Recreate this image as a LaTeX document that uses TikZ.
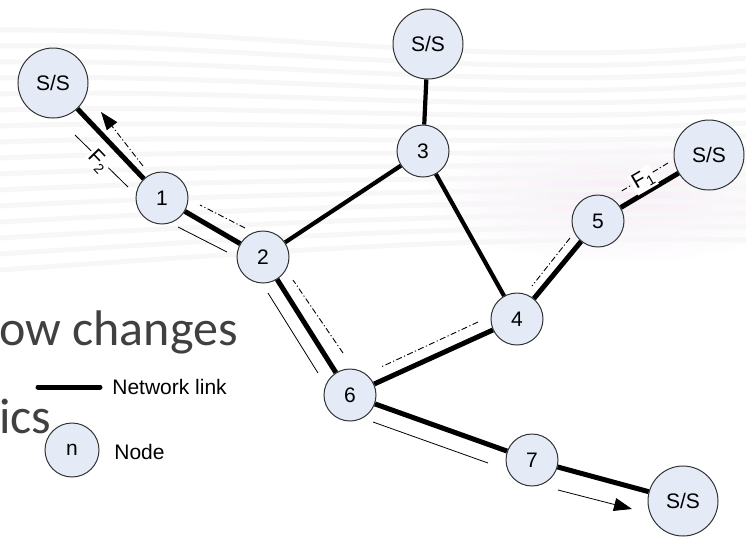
\documentclass[tikz,border=0pt]{standalone}
\usepackage{fontspec}
\setmainfont{Liberation Sans}
\newfontfamily\slidefont{Carlito}
\usetikzlibrary{arrows.meta}
\definecolor{nodeblue}{HTML}{E4EBF7}
\definecolor{slidegray}{HTML}{404040}

\begin{document}
\begin{tikzpicture}[x=0.5pt,y=-0.5pt,>={Triangle[length=9pt,width=6.5pt]},
  font=\fontsize{10.5}{12}\selectfont,
  site/.style={circle,draw=black!80,line width=0.5pt,fill=nodeblue,minimum size=26pt,inner sep=0pt},
  stub/.style={site,minimum size=35pt},
  link/.style={line width=2.5pt},
  sidelink/.style={line width=2.1pt},
  flowone/.style={line width=0.45pt,dash pattern=on 3pt off 1.2pt on 0.6pt off 1.2pt},
  flowtwo/.style={line width=0.4pt},
  flowtag/.style={fill=white,inner sep=0.8pt}]
  \useasboundingbox (0,0) rectangle (746,538);

  % faint slide background
  \shade[inner color=violet!7,outer color=white] (620,195) ellipse [x radius=200,y radius=70];
  \foreach \k in {0,...,15}
    \draw[black!3,line width=2.5pt] (0,{30+16*\k}) .. controls (250,{28+15*\k}) and (480,{70+11*\k}) .. (746,{45+13*\k});
  \node[anchor=base west,inner sep=0pt,text=slidegray,font=\slidefont\fontsize{25}{30}\selectfont] (title) at (-1,345) {ow changes};
  \node[anchor=base west,inner sep=0pt,text=slidegray,font=\slidefont\fontsize{25}{30}\selectfont] (subtitle) at (-1,433) {ics};

  % flow F1
  \draw[flowone] (668,163) -- (620,192);
  \draw[flowone] (570,238) -- (532,286);
  \draw[flowone] (478,322) -- (381,367);
  \draw[flowone] (343,353) -- (293,280);
  \draw[flowone] (245,228) -- (200,205);
  \draw[flowone,->] (143,166) -- (101,112);
  % flow F2
  \draw[flowtwo] (75,135) -- (128,187);
  \draw[flowtwo] (178,227) -- (227,252);
  \draw[flowtwo] (268,293) -- (318,373);
  \draw[flowtwo] (373,422) -- (488,463);
  \draw[flowtwo,->] (558,490) -- (632,509);

  \node[stub] (ssA) at (53,83) {S/S};
  \node[stub] (ssB) at (428,44) {S/S};
  \node[stub] (ssC) at (709,155) {S/S};
  \node[stub] (ssD) at (683,501) {S/S};
  \node[site] (n1) at (162,198) {1};
  \node[site] (n2) at (263,257) {2};
  \node[site] (n3) at (423,151) {3};
  \node[site] (n4) at (517,319) {4};
  \node[site] (n5) at (598,221) {5};
  \node[site] (n6) at (350,395) {6};
  \node[site] (n7) at (532,460) {7};

  \draw[link] (ssA) -- (n1) -- (n2) -- (n6) -- (n7) -- (ssD);
  \draw[link] (n6) -- (n4) -- (n5) -- (ssC);
  \draw[sidelink] (ssB) -- (n3) -- (n2);
  \draw[sidelink] (n3) -- (n4);

  \node[flowtag,rotate=-46] (tagB) at (98,161) {F\raisebox{-0.4ex}{\scriptsize 2}};
  \node[flowtag,rotate=30] (tagA) at (643,180) {F\raisebox{-0.4ex}{\scriptsize 1}};

  % legend
  \coordinate (keyA) at (38,387);
  \coordinate (keyB) at (100,387);
  \draw[link,line cap=round] (keyA) -- (keyB);
  \node[anchor=west,inner sep=0pt] (keylink) at (112,387) {Network link};
  \node[site,minimum size=27pt] (keynode) at (72,450) {n};
  \node[anchor=west,inner sep=0pt] (keytext) at (114,452) {Node};
\end{tikzpicture}
\end{document}
